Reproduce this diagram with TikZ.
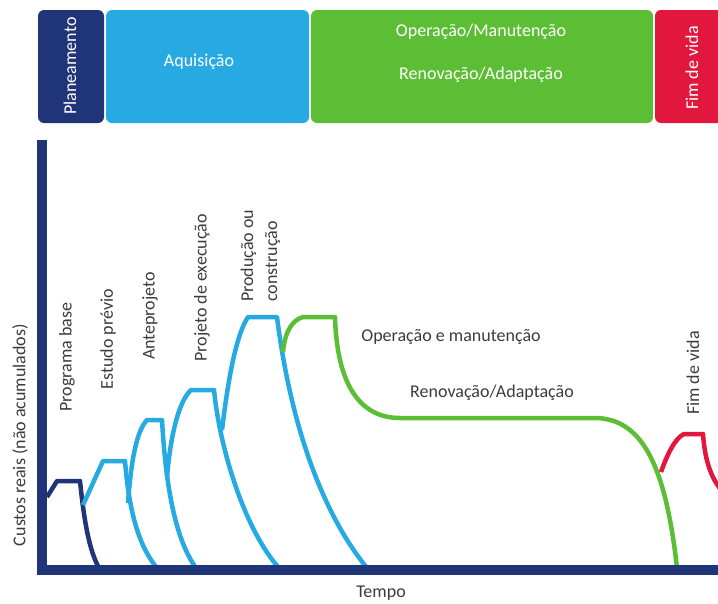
\documentclass[tikz,border=0pt]{standalone}
\usepackage{fontspec}
\setmainfont{Carlito}
\definecolor{navy}{RGB}{32,52,120}
\definecolor{skyblue}{RGB}{39,170,225}
\definecolor{leafgreen}{RGB}{92,190,52}
\definecolor{crimson}{RGB}{226,23,61}
\definecolor{labelgrey}{RGB}{60,60,60}
\begin{document}
\begin{tikzpicture}[x=1pt,y=-1pt,
  phase/.style={fill=#1, rounded corners=6pt},
  phasetext/.style={text=white, inner sep=0pt, font=\fontsize{18}{22}\selectfont},
  curve/.style={draw=#1, line width=4.5pt, line join=round},
  lbl/.style={text=labelgrey, inner sep=0pt, font=\fontsize{18}{24}\selectfont}]
\useasboundingbox (0,0) rectangle (718,603);
\clip (0,0) rectangle (718,603);

% phase bar
\fill[phase=navy]      (38,10)  rectangle (104,123);
\fill[phase=skyblue]   (106,10) rectangle (309,123);
\fill[phase=leafgreen] (311,10) rectangle (653,123);
\fill[phase=crimson]   (655,10) rectangle (740,123);
\node[phasetext, rotate=90] (tplan) at (70,66) {Planeamento};
\node[phasetext] (taq) at (199,62) {Aquisição};
\node[phasetext] (top) at (481,32) {Operação/Manutenção};
\node[phasetext] (tren) at (481,75) {Renovação/Adaptação};
\node[phasetext, rotate=90] (tfim) at (692,68) {Fim de vida};

% cost curves
\draw[curve=navy] (47,497) -- (57,481) -- (80,481)
  .. controls (84,520) and (89,550) .. (99,568);
\draw[curve=skyblue] (83,505) -- (103,461) -- (125,461)
  .. controls (129,510) and (138,545) .. (157,568);
\draw[curve=skyblue] (128,503) .. controls (131,460) and (137,430) .. (147,420)
  -- (162,420) .. controls (166,490) and (176,540) .. (196,568);
\draw[curve=skyblue] (167,477) .. controls (171,430) and (180,400) .. (191,390)
  -- (214,390) .. controls (220,450) and (245,530) .. (279,568);
\draw[curve=skyblue] (222,430) .. controls (228,380) and (236,335) .. (248,317)
  -- (277,317) .. controls (290,420) and (320,510) .. (367,568);
\draw[curve=leafgreen] (283,352) .. controls (285,330) and (293,320) .. (303,317)
  -- (335,317) .. controls (337,385) and (360,418) .. (400,418)
  -- (597,418) .. controls (640,420) and (665,460) .. (677,568);
\draw[curve=crimson] (661,472) .. controls (667,455) and (675,438) .. (684,434)
  -- (703,434) .. controls (705,462) and (712,482) .. (726,495);

% axes
\draw[navy, line width=10pt] (42,140) -- (42,570) -- (730,570);

% labels
\node[lbl, rotate=90] (ycap) at (20,435) {Custos reais (não acumulados)};
\node[lbl] (xcap) [anchor=base] at (381,597.5) {Tempo};
\node[lbl, rotate=90] (lprog) at (67,357) {Programa base};
\node[lbl, rotate=90] (lest) at (108,339) {Estudo prévio};
\node[lbl, rotate=90] (lante) at (150,316) {Anteprojeto};
\node[lbl, rotate=90] (lproj) at (202,288) {Projeto de execução};
\node[lbl, rotate=90, align=left, anchor=west] (lprod) at (260.5,302) {Produção ou\\construção};
\node[lbl] (loper) at (451,337) {Operação e manutenção};
\node[lbl] (lrenov) at (492,393) {Renovação/Adaptação};
\node[lbl, rotate=90] (lfim) at (693,373) {Fim de vida};
\end{tikzpicture}
\end{document}
